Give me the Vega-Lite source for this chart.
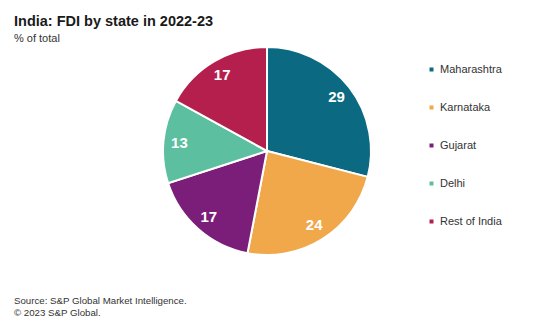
{
  "$schema": "https://vega.github.io/schema/vega-lite/v6.json",
  "background": "white",
  "padding": {"left": 14, "top": 13, "right": 0, "bottom": 0},
  "title": {
    "text": "India: FDI by state in 2022-23",
    "subtitle": "% of total",
    "anchor": "start",
    "font": "Liberation Sans",
    "fontSize": 14.5,
    "fontWeight": "bold",
    "color": "#1a1a1a",
    "subtitleFont": "Liberation Sans",
    "subtitleFontSize": 11,
    "subtitleColor": "#333333",
    "subtitlePadding": 4,
    "offset": -2
  },
  "vconcat": [
    {
      "width": 506,
      "height": 208,
      "title": {
        "text": ["Source: S&P Global Market Intelligence.", "© 2023 S&P Global."],
        "orient": "bottom",
        "anchor": "start",
        "font": "Liberation Sans",
        "fontSize": 9.7,
        "fontWeight": "normal",
        "color": "#333333",
        "lineHeight": 12,
        "offset": 37
      },
      "data": {
        "values": [
          {"state": "Maharashtra", "share": 29, "rank": 1},
          {"state": "Karnataka", "share": 24, "rank": 2},
          {"state": "Gujarat", "share": 17, "rank": 3},
          {"state": "Delhi", "share": 13, "rank": 4},
          {"state": "Rest of India", "share": 17, "rank": 5}
        ]
      },
      "encoding": {
        "theta": {"field": "share", "type": "quantitative", "stack": true},
        "order": {"field": "rank", "type": "quantitative"},
        "color": {
          "field": "state",
          "type": "nominal",
          "sort": ["Maharashtra", "Karnataka", "Gujarat", "Delhi", "Rest of India"],
          "scale": {
            "domain": ["Maharashtra", "Karnataka", "Gujarat", "Delhi", "Rest of India"],
            "range": ["#0b6a82", "#f0a84a", "#7a1e79", "#5cbf9f", "#b51f4d"]
          },
          "legend": {
            "orient": "none",
            "legendX": 412,
            "legendY": 17,
            "padding": 0,
            "title": null,
            "symbolType": "square",
            "symbolSize": 16,
            "symbolStrokeWidth": 0,
            "labelFont": "Liberation Sans",
            "labelFontSize": 11,
            "labelColor": "#333333",
            "labelOffset": 3,
            "rowPadding": 26
          }
        }
      },
      "layer": [
        {
          "mark": {"type": "arc", "outerRadius": 104, "stroke": "white", "strokeWidth": 2}
        },
        {
          "mark": {"type": "text", "radius": 88, "font": "Liberation Sans", "fontSize": 15, "fontWeight": "bold", "color": "white"},
          "encoding": {
            "text": {"field": "share", "type": "quantitative"},
            "color": {"value": "white"}
          }
        }
      ]
    }
  ],
  "config": {"view": {"stroke": null}}
}
